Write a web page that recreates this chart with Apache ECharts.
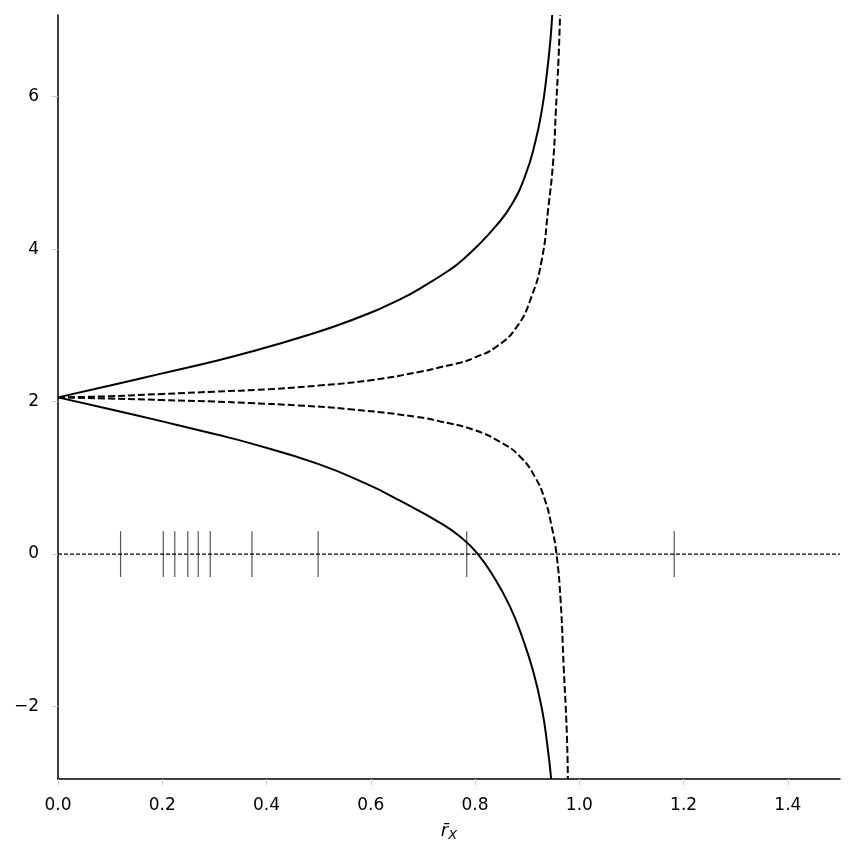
<!DOCTYPE html>
<html>
<head>
<meta charset="utf-8">
<script src="https://cdn.jsdelivr.net/npm/echarts@6/dist/echarts.min.js"></script>
<style>
  html, body { margin: 0; padding: 0; background: #fff; }
  #chart { width: 855px; height: 855px; }
</style>
</head>
<body>
<div id="chart"></div>
<script>
// curves, as [x, y]
const upperSolid = [
  [0, 2.055], [0.1, 2.21], [0.2, 2.37], [0.3, 2.53], [0.368, 2.65], [0.464, 2.84],
  [0.560, 3.06], [0.656, 3.34], [0.713, 3.56], [0.752, 3.73], [0.771, 3.83],
  [0.803, 4.03], [0.841, 4.31], [0.870, 4.58], [0.896, 4.96], [0.915, 5.39],
  [0.928, 5.82], [0.937, 6.26], [0.944, 6.70], [0.948, 7.07]
]
const upperDashed = [
  [0, 2.055], [0.1, 2.07], [0.2, 2.10], [0.3, 2.13], [0.4, 2.16], [0.5, 2.21],
  [0.6, 2.28], [0.694, 2.39], [0.733, 2.45], [0.771, 2.51], [0.797, 2.57],
  [0.841, 2.72], [0.880, 2.98], [0.908, 3.37], [0.928, 3.86], [0.940, 4.51],
  [0.950, 5.17], [0.955, 5.82], [0.960, 6.48], [0.963, 7.07]
]
const lowerDashed = [
  [0, 2.055], [0.1, 2.04], [0.2, 2.02], [0.3, 2.00], [0.368, 1.98], [0.460, 1.95],
  [0.560, 1.90], [0.688, 1.80], [0.733, 1.74], [0.797, 1.63], [0.848, 1.47],
  [0.886, 1.28], [0.915, 1.01], [0.934, 0.71], [0.947, 0.36], [0.956, 0.01],
  [0.964, -0.60], [0.970, -1.48], [0.976, -2.35], [0.978, -2.95]
]
const lowerSolid = [
  [0, 2.055], [0.1, 1.90], [0.2, 1.74], [0.3, 1.575], [0.368, 1.455], [0.496, 1.19],
  [0.592, 0.92], [0.656, 0.70], [0.733, 0.41], [0.771, 0.23], [0.803, 0.02],
  [0.835, -0.29], [0.867, -0.69], [0.892, -1.12], [0.912, -1.55], [0.928, -2.02],
  [0.938, -2.47], [0.946, -2.95]
]
// rug marks on the zero line
const rugX = [0.120, 0.202, 0.224, 0.249, 0.269, 0.292, 0.372, 0.499, 0.784, 1.182]
const zeroLine = [[0, 0], [1.5, 0]]

const xTicks = [0, 0.2, 0.4, 0.6, 0.8, 1.0, 1.2, 1.4]
const yTicks = [-2, 0, 2, 4, 6]

const chart = echarts.init(document.getElementById('chart'))

const font = 'DejaVu Sans'

function curve(data, dashed) {
  return {
    type: 'line',
    data: data,
    symbol: 'none',
    smooth: 0.5,
    clip: true,
    lineStyle: {
      color: '#000',
      width: 2,
      type: dashed ? [7, 3] : 'solid'
    },
    z: 3
  }
}

let option = {
  animation: false,
  backgroundColor: '#fff',
  grid: {
    left: 58,
    right: 15,
    top: 15,
    bottom: 76
  },
  xAxis: {
    type: 'value',
    min: 0,
    max: 1.5,
    name: '{r|r\u0304}{s|X}',
    nameLocation: 'middle',
    nameGap: 42,
    nameTextStyle: {
      rich: {
        r: { fontFamily: font, fontSize: 18, fontStyle: 'italic', color: '#000' },
        s: { fontFamily: font, fontSize: 13, fontStyle: 'italic', color: '#000', padding: [8, 0, 0, 0] }
      }
    },
    axisLine: { show: true, onZero: false, lineStyle: { color: '#000', width: 1.5 } },
    axisTick: { show: true, customValues: xTicks, length: 6, lineStyle: { color: '#ccc', width: 1 } },
    axisLabel: {
      customValues: xTicks,
      formatter: v => v.toFixed(1),
      fontFamily: font,
      fontSize: 17,
      color: '#000',
      margin: 18
    },
    splitLine: { show: false }
  },
  yAxis: {
    type: 'value',
    min: -2.95,
    max: 7.07,
    axisLine: { show: true, onZero: false, lineStyle: { color: '#000', width: 1.5 } },
    axisTick: { show: true, customValues: yTicks, length: 6, lineStyle: { color: '#ccc', width: 1 } },
    axisLabel: {
      customValues: yTicks,
      formatter: v => (v < 0 ? '\u2212' + Math.abs(v) : String(v)),
      fontFamily: font,
      fontSize: 17,
      color: '#000',
      margin: 19
    },
    splitLine: { show: false }
  },
  series: [
    {
      type: 'line',
      data: zeroLine,
      symbol: 'none',
      lineStyle: { color: '#000', width: 1.2, type: [4, 2] },
      z: 2
    },
    {
      type: 'custom',
      data: rugX.map(x => [x, 0]),
      renderItem: (params, api) => {
        const x = api.value(0)
        const p1 = api.coord([x, 0.3])
        const p2 = api.coord([x, -0.3])
        return {
          type: 'line',
          shape: { x1: p1[0], y1: p1[1], x2: p2[0], y2: p2[1] },
          style: { stroke: '#555', lineWidth: 1.2 }
        }
      },
      z: 2
    },
    curve(upperSolid, false),
    curve(lowerSolid, false),
    curve(upperDashed, true),
    curve(lowerDashed, true)
  ]
}

chart.setOption(option)
</script>
</body>
</html>
